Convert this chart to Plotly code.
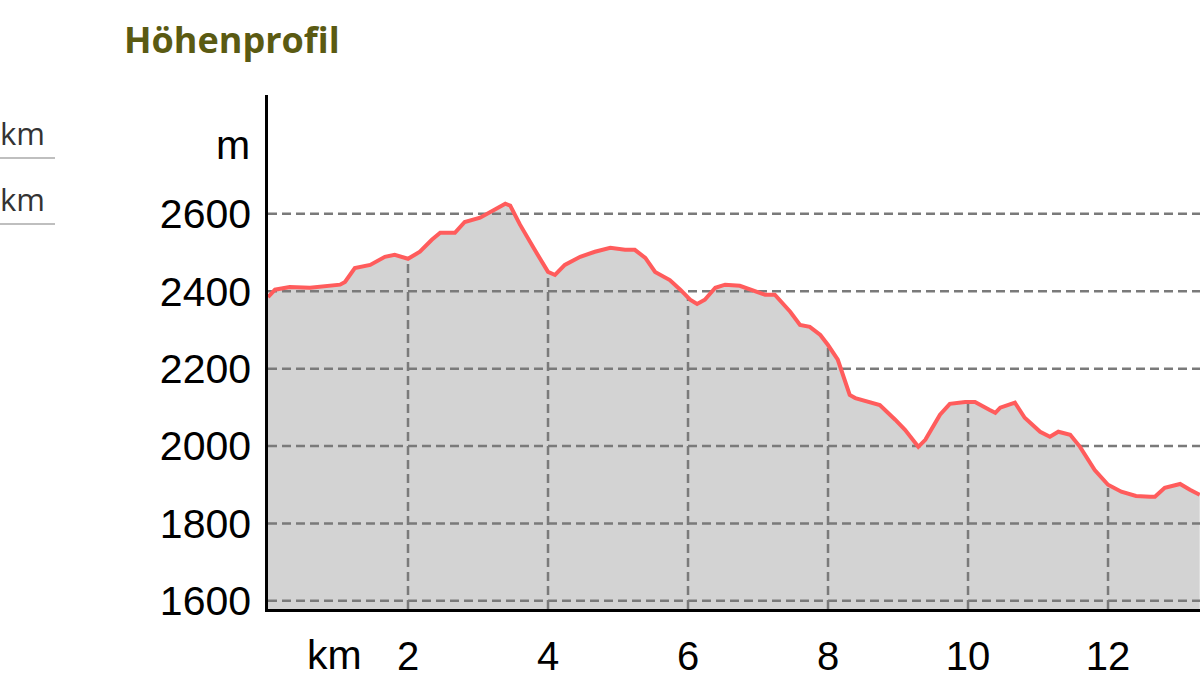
import numpy as np
import plotly.graph_objects as go

# ---- data ----
km = [0.00, 0.10, 0.31, 0.60, 1.03, 1.10, 1.24, 1.46, 1.67, 1.81, 2.00, 2.17, 2.34, 2.46,
      2.67, 2.81, 3.03, 3.24, 3.39, 3.46, 3.60, 3.81, 4.00, 4.10, 4.24, 4.46, 4.67, 4.89,
      5.10, 5.24, 5.39, 5.53, 5.74, 5.89, 6.03, 6.13, 6.24, 6.39, 6.53, 6.74, 6.89, 7.10,
      7.24, 7.46, 7.60, 7.74, 7.89, 8.00, 8.14, 8.31, 8.39, 8.60, 8.74, 8.96, 9.10, 9.29,
      9.39, 9.60, 9.74, 9.96, 10.10, 10.31, 10.39, 10.46, 10.67, 10.81, 11.03, 11.17,
      11.29, 11.46, 11.60, 11.81, 12.00, 12.19, 12.40, 12.60, 12.67, 12.81, 13.03, 13.17, 13.31]
elev = [2385, 2404, 2411, 2409, 2417, 2424, 2460, 2468, 2489, 2494, 2484, 2502, 2533, 2551,
        2551, 2579, 2590, 2610, 2626, 2621, 2572, 2507, 2450, 2442, 2468, 2489, 2502, 2512,
        2507, 2507, 2486, 2450, 2429, 2404, 2378, 2367, 2378, 2409, 2417, 2414, 2404, 2391,
        2391, 2347, 2313, 2308, 2287, 2261, 2223, 2132, 2124, 2114, 2106, 2068, 2042, 1998,
        2016, 2081, 2109, 2114, 2114, 2093, 2086, 2099, 2112, 2073, 2037, 2024,
        2037, 2029, 1998, 1938, 1900, 1882, 1871, 1869, 1869, 1892, 1902, 1887, 1874]

x_ticks = [2, 4, 6, 8, 10, 12]
x_labels = ["2", "4", "6", "8", "10", "12"]
y_ticks = [1600, 1800, 2000, 2200, 2400, 2600]
y_labels = ["1600", "1800", "2000", "2200", "2400", "2600"]

title_text = "Höhenprofil"
y_unit = "m"
x_unit = "km"
side_labels = ["km", "km"]

X_RANGE = [0, 13.314]
Y_RANGE = [1579, 2907]

GRID = "#7a7a7a"
DASH = "9px,5px"
PW, PH = 932, 514  # plot area size in px

fig = go.Figure()

# filled area
fig.add_trace(go.Scatter(x=km, y=elev, mode="lines", line=dict(width=0, color="#d3d3d3"),
                         fill="tozeroy", fillcolor="#d3d3d3", hoverinfo="skip", showlegend=False))

# horizontal grid lines (full width)
for yv in y_ticks:
    fig.add_trace(go.Scatter(x=X_RANGE, y=[yv, yv], mode="lines",
                             line=dict(color=GRID, width=2.5, dash=DASH),
                             hoverinfo="skip", showlegend=False))
# vertical grid lines (only under the profile)
for xv in x_ticks:
    top = float(np.interp(xv, km, elev))
    fig.add_trace(go.Scatter(x=[xv, xv], y=[Y_RANGE[0], top], mode="lines",
                             line=dict(color=GRID, width=2.5, dash=DASH),
                             hoverinfo="skip", showlegend=False))

# profile line
fig.add_trace(go.Scatter(x=km, y=elev, mode="lines", line=dict(color="#ff5c5c", width=4),
                         showlegend=False))

fig.update_layout(
    width=1200, height=684,
    margin=dict(l=268, r=0, t=95, b=75, autoexpand=False),
    paper_bgcolor="white", plot_bgcolor="white",
    font=dict(family="Liberation Sans, Arial, sans-serif", color="black"),
    xaxis=dict(range=X_RANGE, tickvals=x_ticks, ticktext=x_labels, showgrid=False,
               zeroline=False, showline=True, linecolor="black", linewidth=2.5,
               ticks="", ticklabelstandoff=10, tickfont=dict(size=40), automargin=False),
    yaxis=dict(range=Y_RANGE, tickvals=y_ticks, ticktext=y_labels, showgrid=False,
               zeroline=False, showline=True, linecolor="black", linewidth=2.5,
               ticks="", ticklabelstandoff=6, tickfont=dict(size=41), automargin=False),
)

# title
fig.add_annotation(text="<b>" + title_text + "</b>", xref="paper", yref="paper",
                   x=(122-268)/PW, y=1 + (95-40)/PH, xanchor="left", yanchor="middle",
                   showarrow=False, font=dict(family="Open Sans", size=36, color="#5a5a12"))
# unit labels
fig.add_annotation(text=y_unit, xref="paper", yref="paper", x=-16/PW, y=1 - (145-95)/PH,
                   xanchor="right", yanchor="middle", showarrow=False, font=dict(size=41))
fig.add_annotation(text=x_unit, xref="paper", yref="paper", x=(334-268)/PW, y=-(655-609)/PH,
                   xanchor="center", yanchor="middle", showarrow=False, font=dict(size=41))
# cropped side panel
for i, t in enumerate(side_labels):
    yc = 133 + 66 * i
    fig.add_annotation(text=t, xref="paper", yref="paper", x=(-268-2)/PW, y=1 - (yc-95)/PH,
                       xanchor="left", yanchor="middle", showarrow=False,
                       font=dict(family="Open Sans", size=31, color="#333333"))
    yl = 158 + 66 * i
    fig.add_shape(type="line", xref="paper", yref="paper", x0=-268/PW, x1=-213/PW,
                  y0=1 - (yl-95)/PH, y1=1 - (yl-95)/PH, line=dict(color="#aaaaaa", width=1.5))

fig.write_html("out.html", config={"displayModeBar": False},
               post_script="document.body.style.margin='0';document.body.style.overflow='hidden';")
